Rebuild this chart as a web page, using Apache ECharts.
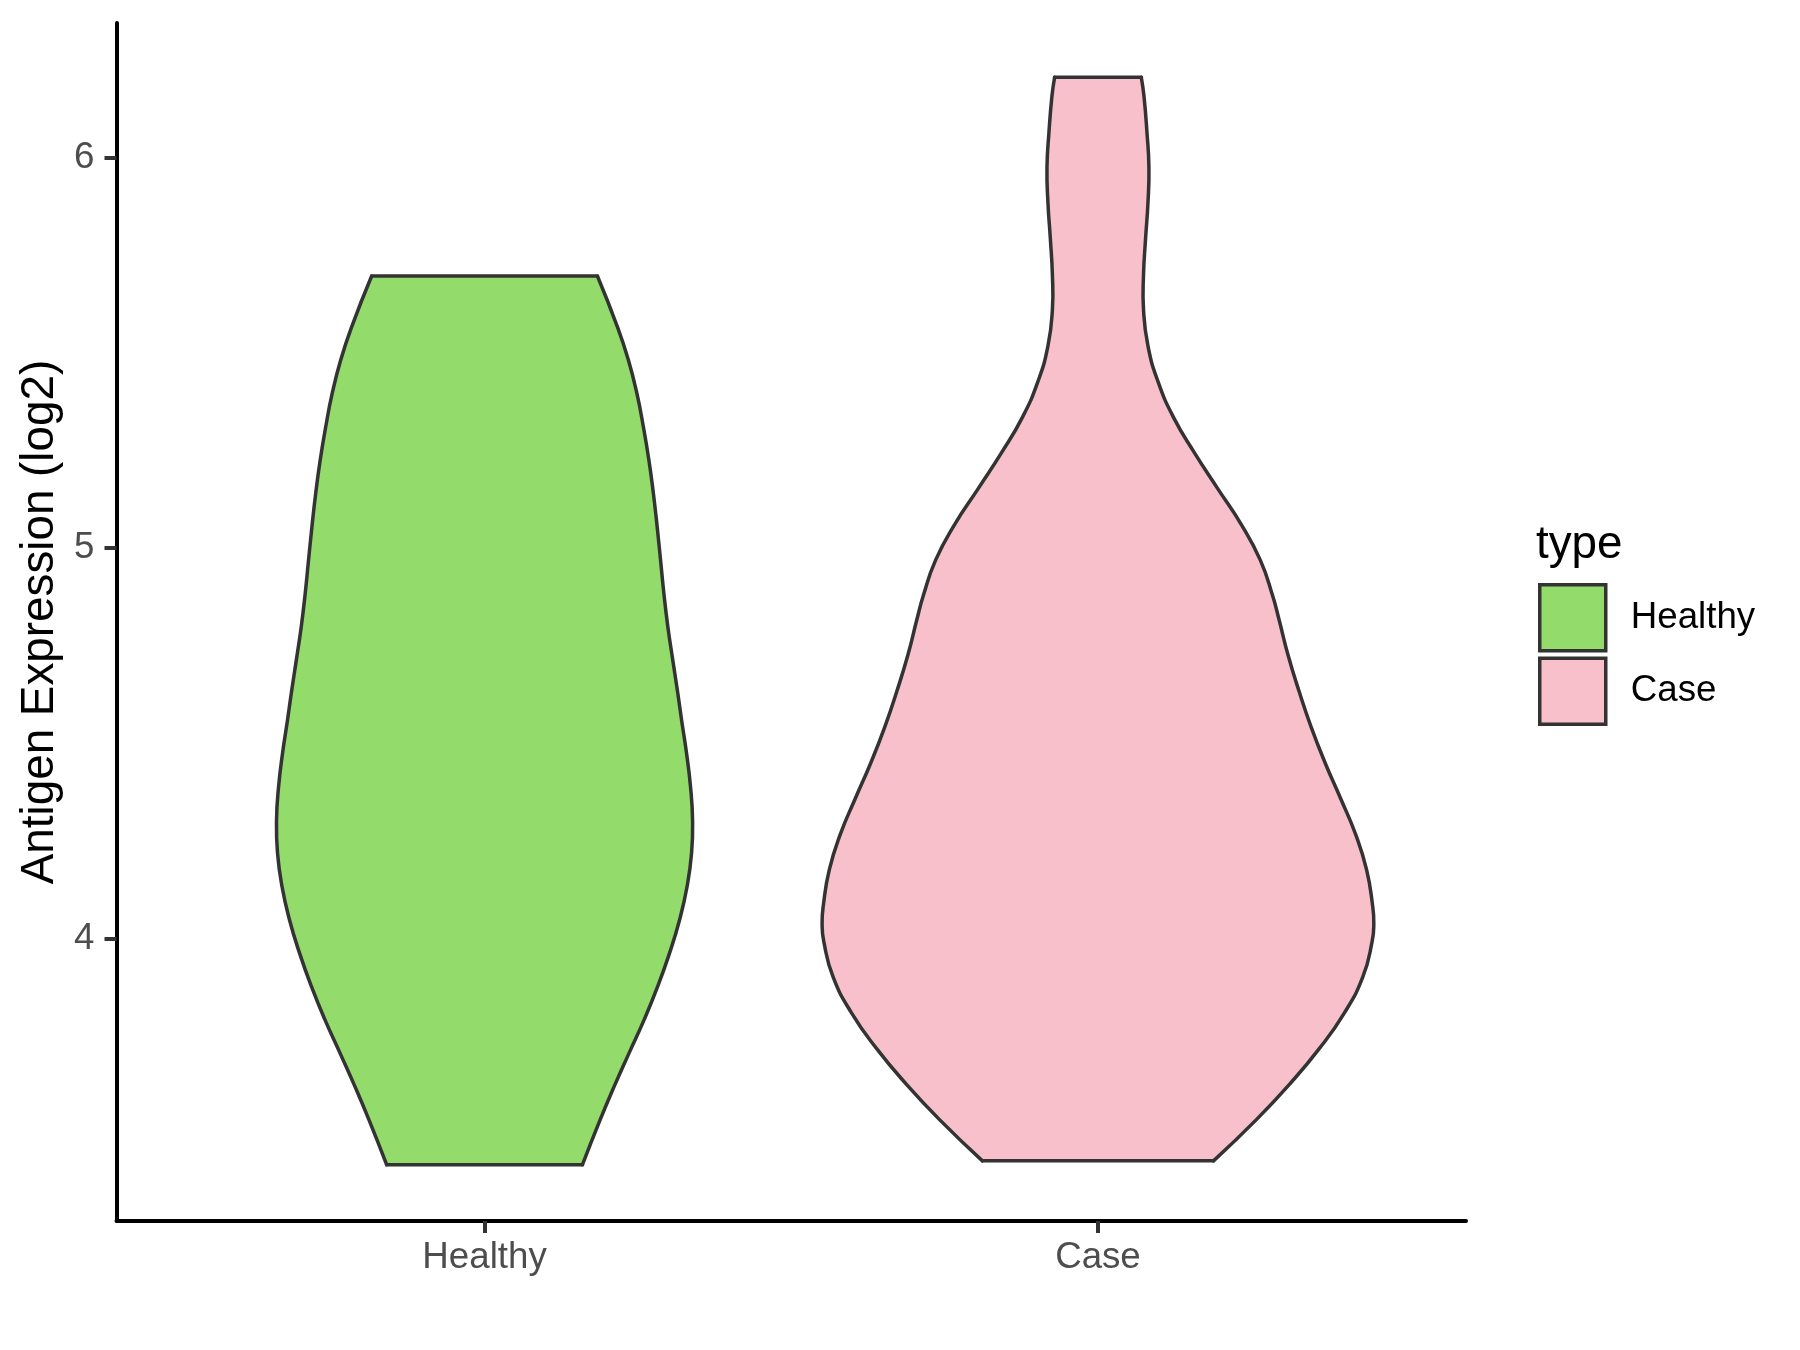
<!DOCTYPE html>
<html><head><meta charset="utf-8">
<script src="https://cdn.jsdelivr.net/npm/echarts@6/dist/echarts.min.js"></script>
<style>html,body{margin:0;padding:0;background:#fff}#c{width:1800px;height:1350px}</style>
</head><body><div id="c"></div>
<script>
const categories = ['Healthy', 'Case'];
const groupColors = ['#93DB6B', '#F7C0CB'];
const yTicks = [4, 5, 6];
const yTitle = 'Antigen Expression (log2)';
const legendTitle = 'type';

// Violin outlines: expression value (log2) and half width (x-axis units)
const healthyY = [5.697,5.567,5.482,5.397,5.311,5.226,5.141,5.055,4.970,4.885,4.799,4.714,4.629,4.560,4.475,4.389,4.304,4.219,4.133,4.048,3.963,3.877,3.792,3.707,3.621,3.536,3.421];
const healthyHalfWidth = [0.1840,0.2166,0.2345,0.2483,0.2589,0.2679,0.2752,0.2814,0.2869,0.2923,0.2988,0.3068,0.3150,0.3212,0.3293,0.3358,0.3391,0.3375,0.3301,0.3179,0.3016,0.2821,0.2601,0.2356,0.2112,0.1884,0.1595];
const caseY = [6.206,6.158,6.067,5.975,5.884,5.792,5.701,5.610,5.518,5.427,5.335,5.244,5.152,5.061,4.970,4.878,4.816,4.725,4.633,4.542,4.450,4.359,4.267,4.176,4.084,4.039,3.993,3.902,3.810,3.719,3.627,3.536,3.431];
const caseHalfWidth = [0.0706,0.0750,0.0798,0.0831,0.0815,0.0776,0.0743,0.0743,0.0815,0.0978,0.1232,0.1574,0.1955,0.2335,0.2645,0.2848,0.2954,0.3101,0.3280,0.3476,0.3704,0.3956,0.4201,0.4380,0.4478,0.4497,0.4470,0.4318,0.4018,0.3611,0.3122,0.2579,0.1884];

const FONT = "'Liberation Sans', Arial, Helvetica, sans-serif";
const OUTLINE = '#333333';

function violinRender(ys, hws, color) {
  return function (params, api) {
    const cx = api.value(0);
    const left = [], right = [];
    for (let i = 0; i < ys.length; i++) {
      left.push(api.coord([cx - hws[i], ys[i]]));
      right.push(api.coord([cx + hws[i], ys[i]]));
    }
    const poly = left.concat(right.slice().reverse());
    const lineStyle = { stroke: OUTLINE, lineWidth: 3.5, fill: null, lineCap: 'round', lineJoin: 'round' };
    return {
      type: 'group',
      children: [
        { type: 'polygon', shape: { points: poly }, style: { fill: color, stroke: null } },
        { type: 'polyline', shape: { points: left, smooth: 0.5 }, style: lineStyle },
        { type: 'polyline', shape: { points: right, smooth: 0.5 }, style: lineStyle },
        { type: 'polyline', shape: { points: [left[0], right[0]] }, style: lineStyle },
        { type: 'polyline', shape: { points: [left[left.length - 1], right[right.length - 1]] }, style: lineStyle }
      ]
    };
  };
}

const chart = echarts.init(document.getElementById('c'), null, { renderer: 'canvas' });
chart.setOption({
  animation: false,
  backgroundColor: '#ffffff',
  grid: { left: 116.5, right: 334, top: 23, bottom: 129, containLabel: false },
  xAxis: {
    type: 'value', min: 0.4, max: 2.6,
    splitLine: { show: false },
    axisLine: { show: true, onZero: false, lineStyle: { color: '#000', width: 4 } },
    axisTick: { show: true, customValues: [1, 2], length: 12, lineStyle: { color: '#333', width: 4 } },
    axisLabel: {
      customValues: [1, 2], margin: 18,
      formatter: v => categories[Math.round(v) - 1] || '',
      color: '#4D4D4D', fontSize: 36.7, fontFamily: FONT
    }
  },
  yAxis: {
    type: 'value', min: 3.277, max: 6.345,
    splitLine: { show: false },
    axisLine: { show: true, onZero: false, lineStyle: { color: '#000', width: 4 } },
    axisTick: { show: true, customValues: yTicks, length: 12, lineStyle: { color: '#333', width: 4 } },
    axisLabel: { customValues: yTicks, margin: 22, color: '#4D4D4D', fontSize: 36.7, fontFamily: FONT },
    name: yTitle, nameLocation: 'middle', nameRotate: 90, nameGap: 50,
    nameTextStyle: { color: '#000', fontSize: 45.8, fontFamily: FONT }
  },
  legend: {
    orient: 'vertical', left: 1538, top: 583, padding: 0,
    itemWidth: 66, itemHeight: 66, itemGap: 4, icon: 'rect', selectedMode: false,
    data: categories.map((c, i) => ({ name: c, itemStyle: { color: groupColors[i], borderColor: OUTLINE, borderWidth: 3.5 } })),
    textStyle: { fontSize: 36.7, color: '#000', fontFamily: FONT, padding: [0, 0, 0, 20] }
  },
  graphic: [{
    type: 'text', left: 1536, top: 522,
    style: { text: legendTitle, fontSize: 45.8, fontFamily: FONT, fill: '#000' }
  }],
  series: [
    {
      type: 'custom', name: categories[0], itemStyle: { color: groupColors[0] },
      data: [[1, 4.5]], encode: { x: 0, y: 1 },
      renderItem: violinRender(healthyY, healthyHalfWidth, groupColors[0])
    },
    {
      type: 'custom', name: categories[1], itemStyle: { color: groupColors[1] },
      data: [[2, 4.5]], encode: { x: 0, y: 1 },
      renderItem: violinRender(caseY, caseHalfWidth, groupColors[1])
    }
  ]
});
</script></body></html>
